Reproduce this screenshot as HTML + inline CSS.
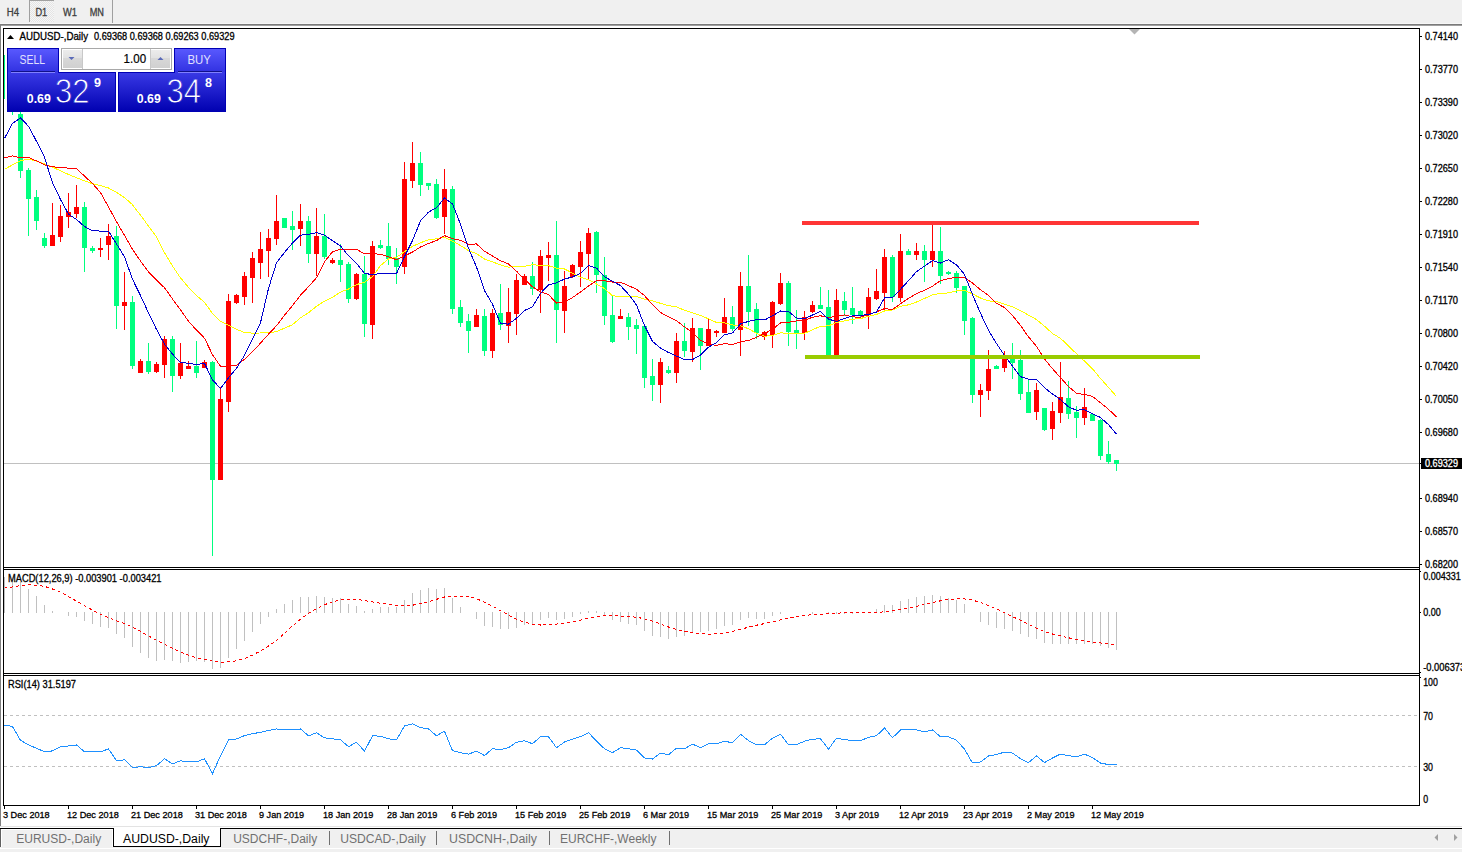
<!DOCTYPE html>
<html><head><meta charset="utf-8"><title>AUDUSD-,Daily</title>
<style>html,body{margin:0;padding:0;background:#fff;overflow:hidden;width:1462px;height:852px}svg{display:block}text{font-family:"Liberation Sans",sans-serif}</style>
</head><body>
<svg width="1462" height="852" viewBox="0 0 1462 852" font-family="Liberation Sans, sans-serif"><rect x="0" y="0" width="1462" height="852" fill="#ffffff"/>
<rect x="0" y="0" width="1462" height="23" fill="#f0f0f0"/>
<rect x="0" y="23" width="1462" height="1" fill="#f7f7f7"/>
<rect x="0" y="24" width="1462" height="1" fill="#7a7a7a"/>
<rect x="0" y="25" width="1462" height="1" fill="#a0a0a0"/>
<defs><pattern id="chk" width="2" height="2" patternUnits="userSpaceOnUse"><rect width="2" height="2" fill="#f6f6f6"/><rect width="1" height="1" fill="#e4e4e4"/><rect x="1" y="1" width="1" height="1" fill="#e4e4e4"/></pattern><linearGradient id="gtab" x1="0" y1="0" x2="0" y2="1"><stop offset="0" stop-color="#5a5aff"/><stop offset="1" stop-color="#3030e0"/></linearGradient><linearGradient id="gbox" x1="0" y1="0" x2="0" y2="1"><stop offset="0" stop-color="#3a3ae6"/><stop offset="1" stop-color="#0000b0"/></linearGradient><linearGradient id="gbtn" x1="0" y1="0" x2="0" y2="1"><stop offset="0" stop-color="#ececec"/><stop offset="0.45" stop-color="#e2e2e2"/><stop offset="0.45" stop-color="#d8d8d8"/><stop offset="1" stop-color="#d0d0d0"/></linearGradient><linearGradient id="gstr" gradientUnits="userSpaceOnUse" x1="0" y1="72" x2="0" y2="112"><stop offset="0" stop-color="#3a3ae6"/><stop offset="1" stop-color="#0000b0"/></linearGradient><clipPath id="main"><rect x="4" y="29" width="1415" height="538"/></clipPath><clipPath id="macd"><rect x="4" y="570" width="1415" height="103"/></clipPath><clipPath id="rsi"><rect x="4" y="676" width="1415" height="129"/></clipPath></defs>
<rect x="29" y="0" width="25" height="22" fill="url(#chk)"/>
<rect x="29" y="0" width="1" height="22" fill="#a0a0a0"/>
<rect x="29" y="0" width="25" height="1" fill="#a0a0a0"/>
<rect x="112" y="0" width="1" height="23" fill="#a0a0a0"/>
<text x="6.7" y="16" font-size="10" fill="#404040" textLength="12.3" lengthAdjust="spacingAndGlyphs" stroke="#404040" stroke-width="0.3">H4</text>
<text x="35.4" y="16" font-size="10" fill="#404040" textLength="11.8" lengthAdjust="spacingAndGlyphs" stroke="#404040" stroke-width="0.3">D1</text>
<text x="63" y="16" font-size="10" fill="#404040" textLength="14" lengthAdjust="spacingAndGlyphs" stroke="#404040" stroke-width="0.3">W1</text>
<text x="89.7" y="16" font-size="10" fill="#404040" textLength="14.3" lengthAdjust="spacingAndGlyphs" stroke="#404040" stroke-width="0.3">MN</text>
<rect x="0" y="24" width="1" height="803" fill="#808080"/>
<rect x="3" y="28" width="1417" height="1" fill="#000000"/>
<rect x="3" y="28" width="1" height="778" fill="#000000"/>
<rect x="1419" y="28" width="1" height="778" fill="#000000"/>
<rect x="3" y="805" width="1417" height="1" fill="#000000"/>
<rect x="3" y="567" width="1417" height="1" fill="#000000"/>
<rect x="3" y="569" width="1417" height="1" fill="#000000"/>
<rect x="3" y="673" width="1417" height="1" fill="#000000"/>
<rect x="3" y="675" width="1417" height="1" fill="#000000"/>
<g clip-path="url(#main)" shape-rendering="crispEdges">
<rect x="4" y="463" width="1415" height="1" fill="#c0c0c0"/>
<rect x="4" y="55" width="1" height="44" fill="#00ff7f"/>
<rect x="12" y="60" width="1" height="55" fill="#00ff7f"/>
<rect x="10" y="80" width="5" height="31" fill="#00ff7f"/>
<rect x="20" y="100" width="1" height="78" fill="#00ff7f"/>
<rect x="18" y="114" width="5" height="57" fill="#00ff7f"/>
<rect x="28" y="168" width="1" height="68" fill="#00ff7f"/>
<rect x="26" y="170" width="5" height="29" fill="#00ff7f"/>
<rect x="36" y="190" width="1" height="40" fill="#00ff7f"/>
<rect x="34" y="197" width="5" height="24" fill="#00ff7f"/>
<rect x="44" y="233" width="1" height="15" fill="#00ff7f"/>
<rect x="42" y="238" width="5" height="8" fill="#00ff7f"/>
<rect x="52" y="203" width="1" height="43" fill="#ff0000"/>
<rect x="50" y="235" width="5" height="11" fill="#ff0000"/>
<rect x="60" y="205" width="1" height="37" fill="#ff0000"/>
<rect x="58" y="216" width="5" height="21" fill="#ff0000"/>
<rect x="68" y="193" width="1" height="35" fill="#ff0000"/>
<rect x="66" y="212" width="5" height="5" fill="#ff0000"/>
<rect x="76" y="185" width="1" height="33" fill="#ff0000"/>
<rect x="74" y="207" width="5" height="7" fill="#ff0000"/>
<rect x="84" y="202" width="1" height="70" fill="#00ff7f"/>
<rect x="82" y="207" width="5" height="41" fill="#00ff7f"/>
<rect x="92" y="246" width="1" height="7" fill="#00ff7f"/>
<rect x="90" y="248" width="5" height="3" fill="#00ff7f"/>
<rect x="100" y="238" width="1" height="19" fill="#ff0000"/>
<rect x="98" y="248" width="5" height="2" fill="#ff0000"/>
<rect x="108" y="224" width="1" height="36" fill="#ff0000"/>
<rect x="106" y="236" width="5" height="9" fill="#ff0000"/>
<rect x="116" y="226" width="1" height="103" fill="#00ff7f"/>
<rect x="114" y="236" width="5" height="70" fill="#00ff7f"/>
<rect x="124" y="272" width="1" height="58" fill="#ff0000"/>
<rect x="122" y="302" width="5" height="4" fill="#ff0000"/>
<rect x="132" y="296" width="1" height="73" fill="#00ff7f"/>
<rect x="130" y="302" width="5" height="64" fill="#00ff7f"/>
<rect x="140" y="359" width="1" height="14" fill="#ff0000"/>
<rect x="138" y="361" width="5" height="12" fill="#ff0000"/>
<rect x="148" y="343" width="1" height="31" fill="#00ff7f"/>
<rect x="146" y="361" width="5" height="11" fill="#00ff7f"/>
<rect x="156" y="362" width="1" height="11" fill="#ff0000"/>
<rect x="154" y="364" width="5" height="8" fill="#ff0000"/>
<rect x="164" y="336" width="1" height="42" fill="#ff0000"/>
<rect x="162" y="339" width="5" height="26" fill="#ff0000"/>
<rect x="172" y="336" width="1" height="56" fill="#00ff7f"/>
<rect x="170" y="339" width="5" height="37" fill="#00ff7f"/>
<rect x="180" y="343" width="1" height="36" fill="#ff0000"/>
<rect x="178" y="363" width="5" height="13" fill="#ff0000"/>
<rect x="188" y="361" width="1" height="8" fill="#ff0000"/>
<rect x="186" y="366" width="5" height="3" fill="#ff0000"/>
<rect x="196" y="341" width="1" height="37" fill="#00ff7f"/>
<rect x="194" y="366" width="5" height="7" fill="#00ff7f"/>
<rect x="204" y="360" width="1" height="8" fill="#ff0000"/>
<rect x="202" y="362" width="5" height="6" fill="#ff0000"/>
<rect x="212" y="361" width="1" height="195" fill="#00ff7f"/>
<rect x="210" y="362" width="5" height="118" fill="#00ff7f"/>
<rect x="220" y="387" width="1" height="93" fill="#ff0000"/>
<rect x="218" y="399" width="5" height="81" fill="#ff0000"/>
<rect x="228" y="294" width="1" height="118" fill="#ff0000"/>
<rect x="226" y="301" width="5" height="101" fill="#ff0000"/>
<rect x="236" y="294" width="1" height="10" fill="#ff0000"/>
<rect x="234" y="295" width="5" height="8" fill="#ff0000"/>
<rect x="244" y="272" width="1" height="33" fill="#ff0000"/>
<rect x="242" y="276" width="5" height="21" fill="#ff0000"/>
<rect x="252" y="252" width="1" height="51" fill="#ff0000"/>
<rect x="250" y="258" width="5" height="20" fill="#ff0000"/>
<rect x="260" y="232" width="1" height="47" fill="#ff0000"/>
<rect x="258" y="249" width="5" height="14" fill="#ff0000"/>
<rect x="268" y="229" width="1" height="48" fill="#ff0000"/>
<rect x="266" y="238" width="5" height="13" fill="#ff0000"/>
<rect x="276" y="195" width="1" height="50" fill="#ff0000"/>
<rect x="274" y="221" width="5" height="18" fill="#ff0000"/>
<rect x="284" y="218" width="1" height="10" fill="#00ff7f"/>
<rect x="282" y="218" width="5" height="10" fill="#00ff7f"/>
<rect x="292" y="211" width="1" height="39" fill="#00ff7f"/>
<rect x="290" y="226" width="5" height="4" fill="#00ff7f"/>
<rect x="300" y="204" width="1" height="42" fill="#ff0000"/>
<rect x="298" y="221" width="5" height="8" fill="#ff0000"/>
<rect x="308" y="216" width="1" height="47" fill="#00ff7f"/>
<rect x="306" y="221" width="5" height="33" fill="#00ff7f"/>
<rect x="316" y="208" width="1" height="68" fill="#ff0000"/>
<rect x="314" y="236" width="5" height="18" fill="#ff0000"/>
<rect x="324" y="214" width="1" height="45" fill="#00ff7f"/>
<rect x="322" y="236" width="5" height="21" fill="#00ff7f"/>
<rect x="332" y="258" width="1" height="6" fill="#ff0000"/>
<rect x="330" y="260" width="5" height="3" fill="#ff0000"/>
<rect x="340" y="244" width="1" height="38" fill="#00ff7f"/>
<rect x="338" y="260" width="5" height="5" fill="#00ff7f"/>
<rect x="348" y="262" width="1" height="41" fill="#00ff7f"/>
<rect x="346" y="264" width="5" height="35" fill="#00ff7f"/>
<rect x="356" y="273" width="1" height="27" fill="#ff0000"/>
<rect x="354" y="274" width="5" height="25" fill="#ff0000"/>
<rect x="364" y="256" width="1" height="81" fill="#00ff7f"/>
<rect x="362" y="274" width="5" height="50" fill="#00ff7f"/>
<rect x="372" y="241" width="1" height="98" fill="#ff0000"/>
<rect x="370" y="246" width="5" height="79" fill="#ff0000"/>
<rect x="380" y="240" width="1" height="9" fill="#00ff7f"/>
<rect x="378" y="245" width="5" height="3" fill="#00ff7f"/>
<rect x="388" y="223" width="1" height="42" fill="#00ff7f"/>
<rect x="386" y="246" width="5" height="13" fill="#00ff7f"/>
<rect x="396" y="248" width="1" height="36" fill="#00ff7f"/>
<rect x="394" y="258" width="5" height="9" fill="#00ff7f"/>
<rect x="404" y="162" width="1" height="112" fill="#ff0000"/>
<rect x="402" y="179" width="5" height="88" fill="#ff0000"/>
<rect x="412" y="142" width="1" height="46" fill="#ff0000"/>
<rect x="410" y="163" width="5" height="18" fill="#ff0000"/>
<rect x="420" y="152" width="1" height="44" fill="#00ff7f"/>
<rect x="418" y="163" width="5" height="22" fill="#00ff7f"/>
<rect x="428" y="183" width="1" height="7" fill="#00ff7f"/>
<rect x="426" y="183" width="5" height="3" fill="#00ff7f"/>
<rect x="436" y="179" width="1" height="40" fill="#00ff7f"/>
<rect x="434" y="184" width="5" height="34" fill="#00ff7f"/>
<rect x="444" y="169" width="1" height="65" fill="#ff0000"/>
<rect x="442" y="189" width="5" height="28" fill="#ff0000"/>
<rect x="452" y="186" width="1" height="128" fill="#00ff7f"/>
<rect x="450" y="189" width="5" height="120" fill="#00ff7f"/>
<rect x="460" y="300" width="1" height="27" fill="#00ff7f"/>
<rect x="458" y="307" width="5" height="16" fill="#00ff7f"/>
<rect x="468" y="314" width="1" height="39" fill="#00ff7f"/>
<rect x="466" y="321" width="5" height="10" fill="#00ff7f"/>
<rect x="476" y="309" width="1" height="18" fill="#ff0000"/>
<rect x="474" y="315" width="5" height="12" fill="#ff0000"/>
<rect x="484" y="309" width="1" height="47" fill="#00ff7f"/>
<rect x="482" y="316" width="5" height="35" fill="#00ff7f"/>
<rect x="492" y="309" width="1" height="49" fill="#ff0000"/>
<rect x="490" y="313" width="5" height="38" fill="#ff0000"/>
<rect x="500" y="284" width="1" height="46" fill="#00ff7f"/>
<rect x="498" y="313" width="5" height="12" fill="#00ff7f"/>
<rect x="508" y="288" width="1" height="55" fill="#ff0000"/>
<rect x="506" y="312" width="5" height="14" fill="#ff0000"/>
<rect x="516" y="274" width="1" height="61" fill="#ff0000"/>
<rect x="514" y="280" width="5" height="34" fill="#ff0000"/>
<rect x="524" y="274" width="1" height="11" fill="#ff0000"/>
<rect x="522" y="276" width="5" height="9" fill="#ff0000"/>
<rect x="532" y="262" width="1" height="33" fill="#00ff7f"/>
<rect x="530" y="276" width="5" height="13" fill="#00ff7f"/>
<rect x="540" y="250" width="1" height="63" fill="#ff0000"/>
<rect x="538" y="256" width="5" height="34" fill="#ff0000"/>
<rect x="548" y="242" width="1" height="39" fill="#ff0000"/>
<rect x="546" y="255" width="5" height="3" fill="#ff0000"/>
<rect x="556" y="221" width="1" height="122" fill="#00ff7f"/>
<rect x="554" y="255" width="5" height="55" fill="#00ff7f"/>
<rect x="564" y="271" width="1" height="62" fill="#ff0000"/>
<rect x="562" y="286" width="5" height="25" fill="#ff0000"/>
<rect x="572" y="264" width="1" height="14" fill="#ff0000"/>
<rect x="570" y="265" width="5" height="12" fill="#ff0000"/>
<rect x="580" y="241" width="1" height="46" fill="#ff0000"/>
<rect x="578" y="252" width="5" height="15" fill="#ff0000"/>
<rect x="588" y="228" width="1" height="51" fill="#ff0000"/>
<rect x="586" y="233" width="5" height="21" fill="#ff0000"/>
<rect x="596" y="231" width="1" height="62" fill="#00ff7f"/>
<rect x="594" y="232" width="5" height="43" fill="#00ff7f"/>
<rect x="604" y="257" width="1" height="68" fill="#00ff7f"/>
<rect x="602" y="275" width="5" height="41" fill="#00ff7f"/>
<rect x="612" y="296" width="1" height="47" fill="#00ff7f"/>
<rect x="610" y="315" width="5" height="27" fill="#00ff7f"/>
<rect x="620" y="309" width="1" height="10" fill="#ff0000"/>
<rect x="618" y="316" width="5" height="3" fill="#ff0000"/>
<rect x="628" y="313" width="1" height="27" fill="#00ff7f"/>
<rect x="626" y="317" width="5" height="10" fill="#00ff7f"/>
<rect x="636" y="319" width="1" height="35" fill="#00ff7f"/>
<rect x="634" y="325" width="5" height="4" fill="#00ff7f"/>
<rect x="644" y="326" width="1" height="62" fill="#00ff7f"/>
<rect x="642" y="326" width="5" height="52" fill="#00ff7f"/>
<rect x="652" y="359" width="1" height="42" fill="#00ff7f"/>
<rect x="650" y="376" width="5" height="9" fill="#00ff7f"/>
<rect x="660" y="358" width="1" height="45" fill="#ff0000"/>
<rect x="658" y="362" width="5" height="23" fill="#ff0000"/>
<rect x="668" y="366" width="1" height="8" fill="#00ff7f"/>
<rect x="666" y="370" width="5" height="3" fill="#00ff7f"/>
<rect x="676" y="333" width="1" height="50" fill="#ff0000"/>
<rect x="674" y="341" width="5" height="32" fill="#ff0000"/>
<rect x="684" y="323" width="1" height="34" fill="#00ff7f"/>
<rect x="682" y="341" width="5" height="10" fill="#00ff7f"/>
<rect x="692" y="318" width="1" height="44" fill="#ff0000"/>
<rect x="690" y="328" width="5" height="24" fill="#ff0000"/>
<rect x="700" y="328" width="1" height="42" fill="#00ff7f"/>
<rect x="698" y="328" width="5" height="18" fill="#00ff7f"/>
<rect x="708" y="318" width="1" height="28" fill="#ff0000"/>
<rect x="706" y="329" width="5" height="17" fill="#ff0000"/>
<rect x="716" y="330" width="1" height="7" fill="#ff0000"/>
<rect x="714" y="331" width="5" height="2" fill="#ff0000"/>
<rect x="724" y="298" width="1" height="35" fill="#ff0000"/>
<rect x="722" y="317" width="5" height="16" fill="#ff0000"/>
<rect x="732" y="306" width="1" height="25" fill="#00ff7f"/>
<rect x="730" y="317" width="5" height="12" fill="#00ff7f"/>
<rect x="740" y="272" width="1" height="84" fill="#ff0000"/>
<rect x="738" y="286" width="5" height="44" fill="#ff0000"/>
<rect x="748" y="255" width="1" height="71" fill="#00ff7f"/>
<rect x="746" y="286" width="5" height="26" fill="#00ff7f"/>
<rect x="756" y="303" width="1" height="36" fill="#00ff7f"/>
<rect x="754" y="309" width="5" height="24" fill="#00ff7f"/>
<rect x="764" y="331" width="1" height="9" fill="#ff0000"/>
<rect x="762" y="332" width="5" height="5" fill="#ff0000"/>
<rect x="772" y="301" width="1" height="47" fill="#ff0000"/>
<rect x="770" y="302" width="5" height="33" fill="#ff0000"/>
<rect x="780" y="273" width="1" height="32" fill="#ff0000"/>
<rect x="778" y="283" width="5" height="21" fill="#ff0000"/>
<rect x="788" y="281" width="1" height="65" fill="#00ff7f"/>
<rect x="786" y="283" width="5" height="49" fill="#00ff7f"/>
<rect x="796" y="310" width="1" height="39" fill="#00ff7f"/>
<rect x="794" y="330" width="5" height="3" fill="#00ff7f"/>
<rect x="804" y="311" width="1" height="29" fill="#ff0000"/>
<rect x="802" y="317" width="5" height="16" fill="#ff0000"/>
<rect x="812" y="301" width="1" height="12" fill="#ff0000"/>
<rect x="810" y="305" width="5" height="7" fill="#ff0000"/>
<rect x="820" y="287" width="1" height="22" fill="#00ff7f"/>
<rect x="818" y="305" width="5" height="4" fill="#00ff7f"/>
<rect x="828" y="290" width="1" height="66" fill="#00ff7f"/>
<rect x="826" y="307" width="5" height="49" fill="#00ff7f"/>
<rect x="836" y="289" width="1" height="67" fill="#ff0000"/>
<rect x="834" y="300" width="5" height="55" fill="#ff0000"/>
<rect x="844" y="292" width="1" height="24" fill="#00ff7f"/>
<rect x="842" y="301" width="5" height="9" fill="#00ff7f"/>
<rect x="852" y="287" width="1" height="37" fill="#00ff7f"/>
<rect x="850" y="308" width="5" height="7" fill="#00ff7f"/>
<rect x="860" y="310" width="1" height="7" fill="#00ff7f"/>
<rect x="858" y="311" width="5" height="5" fill="#00ff7f"/>
<rect x="868" y="288" width="1" height="41" fill="#ff0000"/>
<rect x="866" y="297" width="5" height="18" fill="#ff0000"/>
<rect x="876" y="269" width="1" height="31" fill="#ff0000"/>
<rect x="874" y="291" width="5" height="8" fill="#ff0000"/>
<rect x="884" y="249" width="1" height="61" fill="#ff0000"/>
<rect x="882" y="257" width="5" height="36" fill="#ff0000"/>
<rect x="892" y="255" width="1" height="47" fill="#00ff7f"/>
<rect x="890" y="257" width="5" height="40" fill="#00ff7f"/>
<rect x="900" y="234" width="1" height="68" fill="#ff0000"/>
<rect x="898" y="251" width="5" height="47" fill="#ff0000"/>
<rect x="908" y="249" width="1" height="6" fill="#00ff7f"/>
<rect x="906" y="251" width="5" height="4" fill="#00ff7f"/>
<rect x="916" y="243" width="1" height="17" fill="#ff0000"/>
<rect x="914" y="251" width="5" height="4" fill="#ff0000"/>
<rect x="924" y="245" width="1" height="37" fill="#00ff7f"/>
<rect x="922" y="251" width="5" height="9" fill="#00ff7f"/>
<rect x="932" y="225" width="1" height="42" fill="#ff0000"/>
<rect x="930" y="251" width="5" height="9" fill="#ff0000"/>
<rect x="940" y="227" width="1" height="57" fill="#00ff7f"/>
<rect x="938" y="251" width="5" height="25" fill="#00ff7f"/>
<rect x="948" y="271" width="1" height="4" fill="#00ff7f"/>
<rect x="946" y="272" width="5" height="2" fill="#00ff7f"/>
<rect x="956" y="271" width="1" height="22" fill="#00ff7f"/>
<rect x="954" y="273" width="5" height="15" fill="#00ff7f"/>
<rect x="964" y="286" width="1" height="49" fill="#00ff7f"/>
<rect x="962" y="286" width="5" height="35" fill="#00ff7f"/>
<rect x="972" y="317" width="1" height="86" fill="#00ff7f"/>
<rect x="970" y="318" width="5" height="77" fill="#00ff7f"/>
<rect x="980" y="384" width="1" height="33" fill="#ff0000"/>
<rect x="978" y="390" width="5" height="5" fill="#ff0000"/>
<rect x="988" y="350" width="1" height="50" fill="#ff0000"/>
<rect x="986" y="369" width="5" height="22" fill="#ff0000"/>
<rect x="996" y="365" width="1" height="4" fill="#00ff7f"/>
<rect x="994" y="366" width="5" height="3" fill="#00ff7f"/>
<rect x="1004" y="351" width="1" height="21" fill="#ff0000"/>
<rect x="1002" y="358" width="5" height="10" fill="#ff0000"/>
<rect x="1012" y="343" width="1" height="36" fill="#00ff7f"/>
<rect x="1010" y="358" width="5" height="5" fill="#00ff7f"/>
<rect x="1020" y="350" width="1" height="50" fill="#00ff7f"/>
<rect x="1018" y="360" width="5" height="34" fill="#00ff7f"/>
<rect x="1028" y="379" width="1" height="34" fill="#00ff7f"/>
<rect x="1026" y="392" width="5" height="21" fill="#00ff7f"/>
<rect x="1036" y="383" width="1" height="37" fill="#ff0000"/>
<rect x="1034" y="390" width="5" height="22" fill="#ff0000"/>
<rect x="1044" y="408" width="1" height="23" fill="#00ff7f"/>
<rect x="1042" y="408" width="5" height="22" fill="#00ff7f"/>
<rect x="1052" y="402" width="1" height="38" fill="#ff0000"/>
<rect x="1050" y="411" width="5" height="18" fill="#ff0000"/>
<rect x="1060" y="362" width="1" height="61" fill="#ff0000"/>
<rect x="1058" y="397" width="5" height="16" fill="#ff0000"/>
<rect x="1068" y="381" width="1" height="38" fill="#00ff7f"/>
<rect x="1066" y="398" width="5" height="16" fill="#00ff7f"/>
<rect x="1076" y="406" width="1" height="32" fill="#00ff7f"/>
<rect x="1074" y="412" width="5" height="6" fill="#00ff7f"/>
<rect x="1084" y="388" width="1" height="37" fill="#ff0000"/>
<rect x="1082" y="407" width="5" height="11" fill="#ff0000"/>
<rect x="1092" y="414" width="1" height="7" fill="#00ff7f"/>
<rect x="1090" y="414" width="5" height="7" fill="#00ff7f"/>
<rect x="1100" y="419" width="1" height="41" fill="#00ff7f"/>
<rect x="1098" y="420" width="5" height="36" fill="#00ff7f"/>
<rect x="1108" y="441" width="1" height="23" fill="#00ff7f"/>
<rect x="1106" y="454" width="5" height="8" fill="#00ff7f"/>
<rect x="1116" y="460" width="1" height="11" fill="#00ff7f"/>
<rect x="1114" y="460" width="5" height="4" fill="#00ff7f"/>
</g>
<polyline clip-path="url(#main)" points="4.5,169.2 12.5,164.9 20.5,160.7 28.5,159.1 36.5,161.2 44.5,163.9 52.5,167.1 60.5,170.8 68.5,174.5 76.5,177.7 84.5,180.9 92.5,183.7 100.5,185.7 108.5,188.0 116.5,192.4 124.5,197.6 132.5,204.7 140.5,215.3 148.5,226.0 156.5,236.7 164.5,252.7 172.5,265.9 180.5,277.9 188.5,287.3 196.5,295.6 204.5,302.3 212.5,313.5 220.5,321.3 228.5,325.3 236.5,329.3 244.5,332.6 252.5,333.1 260.5,333.0 268.5,332.6 276.5,331.8 284.5,328.1 292.5,324.7 300.5,317.8 308.5,312.7 316.5,306.3 324.5,301.1 332.5,297.4 340.5,292.1 348.5,289.0 356.5,284.6 364.5,282.2 372.5,276.7 380.5,265.6 388.5,258.9 396.5,257.3 404.5,251.7 412.5,246.4 420.5,242.8 428.5,239.8 436.5,238.8 444.5,237.3 452.5,241.1 460.5,245.5 468.5,250.7 476.5,253.7 484.5,259.1 492.5,261.8 500.5,264.9 508.5,267.2 516.5,266.3 524.5,266.4 532.5,264.8 540.5,265.3 548.5,265.7 556.5,268.1 564.5,269.0 572.5,273.1 580.5,277.4 588.5,279.7 596.5,284.0 604.5,288.6 612.5,295.9 620.5,296.3 628.5,296.5 636.5,296.4 644.5,299.3 652.5,300.9 660.5,303.3 668.5,305.6 676.5,306.9 684.5,310.2 692.5,312.7 700.5,315.4 708.5,318.9 716.5,322.5 724.5,322.9 732.5,324.9 740.5,325.9 748.5,328.7 756.5,333.4 764.5,336.2 772.5,335.6 780.5,332.8 788.5,333.5 796.5,333.8 804.5,333.3 812.5,329.9 820.5,326.2 828.5,325.9 836.5,322.5 844.5,320.9 852.5,319.2 860.5,318.6 868.5,316.3 876.5,314.5 884.5,311.0 892.5,310.0 900.5,306.4 908.5,304.8 916.5,302.0 924.5,298.5 932.5,294.7 940.5,293.4 948.5,292.9 956.5,290.8 964.5,290.3 972.5,293.9 980.5,298.0 988.5,300.9 996.5,301.5 1004.5,304.2 1012.5,306.8 1020.5,310.6 1028.5,315.1 1036.5,319.6 1044.5,326.2 1052.5,333.5 1060.5,338.3 1068.5,346.0 1076.5,353.7 1084.5,361.1 1092.5,368.8 1100.5,378.5 1108.5,387.4 1116.5,396.4" fill="none" stroke="#ffff00" stroke-width="1" shape-rendering="crispEdges"/>
<polyline clip-path="url(#main)" points="4.5,158.0 12.5,155.9 20.5,158.0 28.5,157.5 36.5,160.9 44.5,164.9 52.5,166.7 60.5,167.7 68.5,168.1 76.5,168.7 84.5,176.0 92.5,183.5 100.5,192.5 108.5,207.0 116.5,221.7 124.5,235.4 132.5,249.4 140.5,261.0 148.5,271.8 156.5,280.2 164.5,287.7 172.5,299.0 180.5,309.8 188.5,321.2 196.5,330.1 204.5,338.2 212.5,354.7 220.5,366.3 228.5,366.0 236.5,365.5 244.5,359.2 252.5,351.8 260.5,343.1 268.5,334.2 276.5,325.7 284.5,315.2 292.5,305.6 300.5,295.2 308.5,286.7 316.5,277.7 324.5,261.7 332.5,251.8 340.5,249.2 348.5,249.4 356.5,249.2 364.5,253.9 372.5,253.7 380.5,254.3 388.5,256.9 396.5,259.7 404.5,256.1 412.5,252.0 420.5,247.0 428.5,243.4 436.5,240.6 444.5,235.6 452.5,238.7 460.5,240.4 468.5,244.4 476.5,243.9 484.5,251.3 492.5,256.0 500.5,260.7 508.5,264.0 516.5,271.2 524.5,279.3 532.5,286.8 540.5,291.9 548.5,294.6 556.5,303.2 564.5,301.6 572.5,297.6 580.5,292.0 588.5,286.1 596.5,280.7 604.5,280.8 612.5,282.1 620.5,282.3 628.5,285.6 636.5,289.3 644.5,295.6 652.5,304.8 660.5,312.4 668.5,316.9 676.5,320.8 684.5,326.9 692.5,332.3 700.5,340.3 708.5,344.2 716.5,345.4 724.5,343.7 732.5,344.5 740.5,341.7 748.5,340.5 756.5,337.3 764.5,333.6 772.5,329.3 780.5,322.9 788.5,322.2 796.5,320.9 804.5,320.1 812.5,317.3 820.5,315.8 828.5,317.5 836.5,316.3 844.5,314.9 852.5,316.9 860.5,317.2 868.5,314.7 876.5,311.8 884.5,308.6 892.5,309.5 900.5,303.8 908.5,298.3 916.5,293.6 924.5,290.3 932.5,286.2 940.5,280.5 948.5,278.6 956.5,277.1 964.5,277.5 972.5,283.1 980.5,289.8 988.5,295.3 996.5,303.2 1004.5,307.6 1012.5,315.5 1020.5,325.5 1028.5,336.9 1036.5,346.3 1044.5,359.0 1052.5,368.7 1060.5,377.6 1068.5,386.5 1076.5,393.4 1084.5,394.4 1092.5,396.5 1100.5,402.7 1108.5,409.3 1116.5,416.9" fill="none" stroke="#ff0000" stroke-width="1" shape-rendering="crispEdges"/>
<polyline clip-path="url(#main)" points="4.5,138.4 12.5,123.4 20.5,117.9 28.5,126.3 36.5,141.3 44.5,157.3 52.5,182.7 60.5,199.5 68.5,214.1 76.5,219.5 84.5,226.5 92.5,230.7 100.5,231.1 108.5,231.2 116.5,243.9 124.5,256.8 132.5,279.3 140.5,295.6 148.5,312.9 156.5,329.4 164.5,344.1 172.5,354.1 180.5,362.8 188.5,363.1 196.5,364.6 204.5,363.4 212.5,379.9 220.5,388.5 228.5,377.9 236.5,368.2 244.5,355.3 252.5,339.0 260.5,322.8 268.5,288.4 276.5,262.9 284.5,252.4 292.5,243.0 300.5,235.1 308.5,234.4 316.5,232.6 324.5,235.1 332.5,240.7 340.5,245.9 348.5,255.8 356.5,263.3 364.5,273.3 372.5,274.7 380.5,273.4 388.5,273.1 396.5,273.5 404.5,256.5 412.5,240.6 420.5,220.8 428.5,212.1 436.5,207.8 444.5,198.0 452.5,203.9 460.5,224.3 468.5,248.2 476.5,266.9 484.5,290.5 492.5,304.2 500.5,323.5 508.5,324.1 516.5,318.2 524.5,310.5 532.5,306.7 540.5,293.3 548.5,285.0 556.5,282.8 564.5,279.1 572.5,276.9 580.5,273.5 588.5,265.6 596.5,268.1 604.5,276.7 612.5,281.3 620.5,285.6 628.5,294.3 636.5,305.0 644.5,325.6 652.5,341.4 660.5,348.1 668.5,352.5 676.5,356.1 684.5,359.5 692.5,359.6 700.5,355.0 708.5,347.1 716.5,342.7 724.5,334.8 732.5,333.0 740.5,323.9 748.5,321.4 756.5,319.6 764.5,320.0 772.5,315.9 780.5,311.0 788.5,311.4 796.5,318.0 804.5,318.9 812.5,315.0 820.5,311.5 828.5,319.1 836.5,321.5 844.5,318.4 852.5,315.8 860.5,315.5 868.5,314.4 876.5,312.0 884.5,298.0 892.5,297.5 900.5,289.3 908.5,280.7 916.5,271.6 924.5,266.2 932.5,260.5 940.5,263.0 948.5,259.7 956.5,264.9 964.5,274.3 972.5,294.6 980.5,313.3 988.5,330.2 996.5,343.5 1004.5,355.5 1012.5,366.2 1020.5,376.7 1028.5,379.2 1036.5,379.2 1044.5,387.8 1052.5,394.0 1060.5,399.6 1068.5,406.9 1076.5,410.2 1084.5,409.6 1092.5,413.8 1100.5,417.5 1108.5,424.7 1116.5,434.1" fill="none" stroke="#0000cd" stroke-width="1" shape-rendering="crispEdges"/>
<rect x="802" y="221" width="397" height="4" fill="#ff3535"/>
<rect x="805" y="355" width="395" height="4" fill="#99cc00"/>
<polygon points="1129,29 1140,29 1134.5,34.5" fill="#b4b4b4"/>
<polygon points="7,39 14,39 10.5,35" fill="#000"/>
<text x="19.5" y="40" font-size="10.3" fill="#000" textLength="68.5" lengthAdjust="spacingAndGlyphs" stroke="#000" stroke-width="0.3">AUDUSD-,Daily</text>
<text x="94" y="40" font-size="10" fill="#000" textLength="140.5" lengthAdjust="spacingAndGlyphs" stroke="#000" stroke-width="0.3">0.69368 0.69368 0.69263 0.69329</text>
<rect x="7" y="48" width="52" height="25" fill="url(#gtab)"/>
<rect x="7" y="72" width="109" height="40" fill="url(#gbox)"/>
<rect x="174" y="48" width="52" height="25" fill="url(#gtab)"/>
<rect x="118" y="72" width="108" height="40" fill="url(#gbox)"/>
<path d="M7.5,111.5 V48.5 H58.5 V72.5 H115.5 V111.5 Z" fill="none" stroke="#0000b4" stroke-width="1" shape-rendering="crispEdges"/>
<path d="M118.5,111.5 V72.5 H174.5 V48.5 H225.5 V111.5 Z" fill="none" stroke="#0000b4" stroke-width="1" shape-rendering="crispEdges"/>
<rect x="11" y="71" width="44" height="1" fill="#10108a"/>
<rect x="11" y="72" width="44" height="1" fill="#8080ff"/>
<rect x="178" y="71" width="44" height="1" fill="#10108a"/>
<rect x="178" y="72" width="44" height="1" fill="#8080ff"/>
<text x="19.5" y="64" font-size="12" fill="#e0e0ff" textLength="25.5" lengthAdjust="spacingAndGlyphs">SELL</text>
<text x="187.5" y="64" font-size="12" fill="#e0e0ff" textLength="23.5" lengthAdjust="spacingAndGlyphs">BUY</text>
<rect x="61" y="48" width="111" height="22" fill="#a8a8a8"/>
<rect x="62" y="49" width="109" height="20" fill="#ffffff"/>
<rect x="63" y="50" width="19" height="18" fill="url(#gbtn)"/>
<rect x="82" y="49" width="1" height="20" fill="#c8c8c8"/>
<rect x="151" y="50" width="19" height="18" fill="url(#gbtn)"/>
<rect x="150" y="49" width="1" height="20" fill="#c8c8c8"/>
<polygon points="68.5,57 74.5,57 71.5,60" fill="#5a6ab8"/>
<polygon points="157.5,60 163.5,60 160.5,57" fill="#5a6ab8"/>
<text x="123.6" y="63" font-size="12" fill="#000" textLength="22.5" lengthAdjust="spacingAndGlyphs" stroke="#000" stroke-width="0.2">1.00</text>
<text x="26.8" y="103" font-size="12.5" fill="#fff" textLength="24" lengthAdjust="spacingAndGlyphs" font-weight="bold">0.69</text>
<text x="55" y="103" font-size="34.5" fill="#fff" textLength="34.5" lengthAdjust="spacingAndGlyphs" stroke="url(#gstr)" stroke-width="0.9">32</text>
<text x="94" y="86.5" font-size="12" fill="#fff" textLength="7" lengthAdjust="spacingAndGlyphs" font-weight="bold">9</text>
<text x="136.8" y="103" font-size="12.5" fill="#fff" textLength="24" lengthAdjust="spacingAndGlyphs" font-weight="bold">0.69</text>
<text x="166.5" y="103" font-size="34.5" fill="#fff" textLength="34.5" lengthAdjust="spacingAndGlyphs" stroke="url(#gstr)" stroke-width="0.9">34</text>
<text x="205" y="86.5" font-size="12" fill="#fff" textLength="7" lengthAdjust="spacingAndGlyphs" font-weight="bold">8</text>
<rect x="1420" y="36" width="2" height="1" fill="#000000"/>
<text x="1425" y="40" font-size="10" fill="#000" textLength="33" lengthAdjust="spacingAndGlyphs" stroke="#000" stroke-width="0.3">0.74140</text>
<rect x="1420" y="69" width="2" height="1" fill="#000000"/>
<text x="1425" y="73" font-size="10" fill="#000" textLength="33" lengthAdjust="spacingAndGlyphs" stroke="#000" stroke-width="0.3">0.73770</text>
<rect x="1420" y="102" width="2" height="1" fill="#000000"/>
<text x="1425" y="106" font-size="10" fill="#000" textLength="33" lengthAdjust="spacingAndGlyphs" stroke="#000" stroke-width="0.3">0.73390</text>
<rect x="1420" y="135" width="2" height="1" fill="#000000"/>
<text x="1425" y="139" font-size="10" fill="#000" textLength="33" lengthAdjust="spacingAndGlyphs" stroke="#000" stroke-width="0.3">0.73020</text>
<rect x="1420" y="168" width="2" height="1" fill="#000000"/>
<text x="1425" y="172" font-size="10" fill="#000" textLength="33" lengthAdjust="spacingAndGlyphs" stroke="#000" stroke-width="0.3">0.72650</text>
<rect x="1420" y="201" width="2" height="1" fill="#000000"/>
<text x="1425" y="205" font-size="10" fill="#000" textLength="33" lengthAdjust="spacingAndGlyphs" stroke="#000" stroke-width="0.3">0.72280</text>
<rect x="1420" y="234" width="2" height="1" fill="#000000"/>
<text x="1425" y="238" font-size="10" fill="#000" textLength="33" lengthAdjust="spacingAndGlyphs" stroke="#000" stroke-width="0.3">0.71910</text>
<rect x="1420" y="267" width="2" height="1" fill="#000000"/>
<text x="1425" y="271" font-size="10" fill="#000" textLength="33" lengthAdjust="spacingAndGlyphs" stroke="#000" stroke-width="0.3">0.71540</text>
<rect x="1420" y="300" width="2" height="1" fill="#000000"/>
<text x="1425" y="304" font-size="10" fill="#000" textLength="33" lengthAdjust="spacingAndGlyphs" stroke="#000" stroke-width="0.3">0.71170</text>
<rect x="1420" y="333" width="2" height="1" fill="#000000"/>
<text x="1425" y="337" font-size="10" fill="#000" textLength="33" lengthAdjust="spacingAndGlyphs" stroke="#000" stroke-width="0.3">0.70800</text>
<rect x="1420" y="366" width="2" height="1" fill="#000000"/>
<text x="1425" y="370" font-size="10" fill="#000" textLength="33" lengthAdjust="spacingAndGlyphs" stroke="#000" stroke-width="0.3">0.70420</text>
<rect x="1420" y="399" width="2" height="1" fill="#000000"/>
<text x="1425" y="403" font-size="10" fill="#000" textLength="33" lengthAdjust="spacingAndGlyphs" stroke="#000" stroke-width="0.3">0.70050</text>
<rect x="1420" y="432" width="2" height="1" fill="#000000"/>
<text x="1425" y="436" font-size="10" fill="#000" textLength="33" lengthAdjust="spacingAndGlyphs" stroke="#000" stroke-width="0.3">0.69680</text>
<rect x="1420" y="498" width="2" height="1" fill="#000000"/>
<text x="1425" y="502" font-size="10" fill="#000" textLength="33" lengthAdjust="spacingAndGlyphs" stroke="#000" stroke-width="0.3">0.68940</text>
<rect x="1420" y="531" width="2" height="1" fill="#000000"/>
<text x="1425" y="535" font-size="10" fill="#000" textLength="33" lengthAdjust="spacingAndGlyphs" stroke="#000" stroke-width="0.3">0.68570</text>
<rect x="1420" y="564" width="2" height="1" fill="#000000"/>
<text x="1425" y="568" font-size="10" fill="#000" textLength="33" lengthAdjust="spacingAndGlyphs" stroke="#000" stroke-width="0.3">0.68200</text>
<rect x="1421" y="458" width="41" height="11" fill="#000"/>
<rect x="1420" y="463" width="2" height="1" fill="#000000"/>
<text x="1425" y="467" font-size="10" fill="#fff" textLength="33" lengthAdjust="spacingAndGlyphs" stroke="#fff" stroke-width="0.3">0.69329</text>
<g clip-path="url(#macd)" shape-rendering="crispEdges">
<rect x="4" y="577" width="1" height="36" fill="#c0c0c0"/>
<rect x="12" y="580" width="1" height="33" fill="#c0c0c0"/>
<rect x="20" y="582" width="1" height="31" fill="#c0c0c0"/>
<rect x="28" y="589" width="1" height="24" fill="#c0c0c0"/>
<rect x="36" y="596" width="1" height="17" fill="#c0c0c0"/>
<rect x="44" y="605" width="1" height="8" fill="#c0c0c0"/>
<rect x="52" y="611" width="1" height="2" fill="#c0c0c0"/>
<rect x="68" y="612" width="1" height="4" fill="#c0c0c0"/>
<rect x="76" y="612" width="1" height="5" fill="#c0c0c0"/>
<rect x="84" y="612" width="1" height="9" fill="#c0c0c0"/>
<rect x="92" y="612" width="1" height="12" fill="#c0c0c0"/>
<rect x="100" y="612" width="1" height="15" fill="#c0c0c0"/>
<rect x="108" y="612" width="1" height="16" fill="#c0c0c0"/>
<rect x="116" y="612" width="1" height="22" fill="#c0c0c0"/>
<rect x="124" y="612" width="1" height="26" fill="#c0c0c0"/>
<rect x="132" y="612" width="1" height="35" fill="#c0c0c0"/>
<rect x="140" y="612" width="1" height="41" fill="#c0c0c0"/>
<rect x="148" y="612" width="1" height="46" fill="#c0c0c0"/>
<rect x="156" y="612" width="1" height="49" fill="#c0c0c0"/>
<rect x="164" y="612" width="1" height="48" fill="#c0c0c0"/>
<rect x="172" y="612" width="1" height="49" fill="#c0c0c0"/>
<rect x="180" y="612" width="1" height="51" fill="#c0c0c0"/>
<rect x="188" y="612" width="1" height="50" fill="#c0c0c0"/>
<rect x="196" y="612" width="1" height="49" fill="#c0c0c0"/>
<rect x="204" y="612" width="1" height="50" fill="#c0c0c0"/>
<rect x="212" y="612" width="1" height="57" fill="#c0c0c0"/>
<rect x="220" y="612" width="1" height="56" fill="#c0c0c0"/>
<rect x="228" y="612" width="1" height="46" fill="#c0c0c0"/>
<rect x="236" y="612" width="1" height="37" fill="#c0c0c0"/>
<rect x="244" y="612" width="1" height="29" fill="#c0c0c0"/>
<rect x="252" y="612" width="1" height="20" fill="#c0c0c0"/>
<rect x="260" y="612" width="1" height="12" fill="#c0c0c0"/>
<rect x="268" y="612" width="1" height="5" fill="#c0c0c0"/>
<rect x="276" y="609" width="1" height="4" fill="#c0c0c0"/>
<rect x="284" y="604" width="1" height="9" fill="#c0c0c0"/>
<rect x="292" y="600" width="1" height="13" fill="#c0c0c0"/>
<rect x="300" y="597" width="1" height="16" fill="#c0c0c0"/>
<rect x="308" y="597" width="1" height="16" fill="#c0c0c0"/>
<rect x="316" y="596" width="1" height="17" fill="#c0c0c0"/>
<rect x="324" y="597" width="1" height="16" fill="#c0c0c0"/>
<rect x="332" y="598" width="1" height="15" fill="#c0c0c0"/>
<rect x="340" y="598" width="1" height="15" fill="#c0c0c0"/>
<rect x="348" y="604" width="1" height="9" fill="#c0c0c0"/>
<rect x="356" y="606" width="1" height="7" fill="#c0c0c0"/>
<rect x="364" y="611" width="1" height="2" fill="#c0c0c0"/>
<rect x="372" y="609" width="1" height="4" fill="#c0c0c0"/>
<rect x="380" y="607" width="1" height="6" fill="#c0c0c0"/>
<rect x="388" y="607" width="1" height="6" fill="#c0c0c0"/>
<rect x="396" y="607" width="1" height="6" fill="#c0c0c0"/>
<rect x="404" y="600" width="1" height="13" fill="#c0c0c0"/>
<rect x="412" y="593" width="1" height="20" fill="#c0c0c0"/>
<rect x="420" y="590" width="1" height="23" fill="#c0c0c0"/>
<rect x="428" y="588" width="1" height="25" fill="#c0c0c0"/>
<rect x="436" y="589" width="1" height="24" fill="#c0c0c0"/>
<rect x="444" y="588" width="1" height="25" fill="#c0c0c0"/>
<rect x="452" y="598" width="1" height="15" fill="#c0c0c0"/>
<rect x="460" y="607" width="1" height="6" fill="#c0c0c0"/>
<rect x="476" y="612" width="1" height="7" fill="#c0c0c0"/>
<rect x="484" y="612" width="1" height="14" fill="#c0c0c0"/>
<rect x="492" y="612" width="1" height="15" fill="#c0c0c0"/>
<rect x="500" y="612" width="1" height="17" fill="#c0c0c0"/>
<rect x="508" y="612" width="1" height="17" fill="#c0c0c0"/>
<rect x="516" y="612" width="1" height="16" fill="#c0c0c0"/>
<rect x="524" y="612" width="1" height="13" fill="#c0c0c0"/>
<rect x="532" y="612" width="1" height="12" fill="#c0c0c0"/>
<rect x="540" y="612" width="1" height="8" fill="#c0c0c0"/>
<rect x="548" y="612" width="1" height="6" fill="#c0c0c0"/>
<rect x="556" y="612" width="1" height="8" fill="#c0c0c0"/>
<rect x="564" y="612" width="1" height="7" fill="#c0c0c0"/>
<rect x="572" y="612" width="1" height="5" fill="#c0c0c0"/>
<rect x="580" y="612" width="1" height="2" fill="#c0c0c0"/>
<rect x="588" y="611" width="1" height="2" fill="#c0c0c0"/>
<rect x="596" y="611" width="1" height="2" fill="#c0c0c0"/>
<rect x="604" y="612" width="1" height="3" fill="#c0c0c0"/>
<rect x="612" y="612" width="1" height="8" fill="#c0c0c0"/>
<rect x="620" y="612" width="1" height="10" fill="#c0c0c0"/>
<rect x="628" y="612" width="1" height="12" fill="#c0c0c0"/>
<rect x="636" y="612" width="1" height="13" fill="#c0c0c0"/>
<rect x="644" y="612" width="1" height="19" fill="#c0c0c0"/>
<rect x="652" y="612" width="1" height="24" fill="#c0c0c0"/>
<rect x="660" y="612" width="1" height="25" fill="#c0c0c0"/>
<rect x="668" y="612" width="1" height="27" fill="#c0c0c0"/>
<rect x="676" y="612" width="1" height="25" fill="#c0c0c0"/>
<rect x="684" y="612" width="1" height="24" fill="#c0c0c0"/>
<rect x="692" y="612" width="1" height="21" fill="#c0c0c0"/>
<rect x="700" y="612" width="1" height="20" fill="#c0c0c0"/>
<rect x="708" y="612" width="1" height="19" fill="#c0c0c0"/>
<rect x="716" y="612" width="1" height="17" fill="#c0c0c0"/>
<rect x="724" y="612" width="1" height="14" fill="#c0c0c0"/>
<rect x="732" y="612" width="1" height="13" fill="#c0c0c0"/>
<rect x="740" y="612" width="1" height="8" fill="#c0c0c0"/>
<rect x="748" y="612" width="1" height="6" fill="#c0c0c0"/>
<rect x="756" y="612" width="1" height="7" fill="#c0c0c0"/>
<rect x="764" y="612" width="1" height="7" fill="#c0c0c0"/>
<rect x="772" y="612" width="1" height="4" fill="#c0c0c0"/>
<rect x="780" y="612" width="1" height="2" fill="#c0c0c0"/>
<rect x="812" y="612" width="1" height="2" fill="#c0c0c0"/>
<rect x="828" y="612" width="1" height="2" fill="#c0c0c0"/>
<rect x="836" y="612" width="1" height="2" fill="#c0c0c0"/>
<rect x="844" y="612" width="1" height="2" fill="#c0c0c0"/>
<rect x="852" y="612" width="1" height="2" fill="#c0c0c0"/>
<rect x="876" y="609" width="1" height="4" fill="#c0c0c0"/>
<rect x="884" y="605" width="1" height="8" fill="#c0c0c0"/>
<rect x="892" y="605" width="1" height="8" fill="#c0c0c0"/>
<rect x="900" y="601" width="1" height="12" fill="#c0c0c0"/>
<rect x="908" y="599" width="1" height="14" fill="#c0c0c0"/>
<rect x="916" y="597" width="1" height="16" fill="#c0c0c0"/>
<rect x="924" y="596" width="1" height="17" fill="#c0c0c0"/>
<rect x="932" y="595" width="1" height="18" fill="#c0c0c0"/>
<rect x="940" y="596" width="1" height="17" fill="#c0c0c0"/>
<rect x="948" y="598" width="1" height="15" fill="#c0c0c0"/>
<rect x="956" y="600" width="1" height="13" fill="#c0c0c0"/>
<rect x="964" y="604" width="1" height="9" fill="#c0c0c0"/>
<rect x="980" y="612" width="1" height="10" fill="#c0c0c0"/>
<rect x="988" y="612" width="1" height="13" fill="#c0c0c0"/>
<rect x="996" y="612" width="1" height="16" fill="#c0c0c0"/>
<rect x="1004" y="612" width="1" height="17" fill="#c0c0c0"/>
<rect x="1012" y="612" width="1" height="19" fill="#c0c0c0"/>
<rect x="1020" y="612" width="1" height="22" fill="#c0c0c0"/>
<rect x="1028" y="612" width="1" height="25" fill="#c0c0c0"/>
<rect x="1036" y="612" width="1" height="27" fill="#c0c0c0"/>
<rect x="1044" y="612" width="1" height="31" fill="#c0c0c0"/>
<rect x="1052" y="612" width="1" height="32" fill="#c0c0c0"/>
<rect x="1060" y="612" width="1" height="32" fill="#c0c0c0"/>
<rect x="1068" y="612" width="1" height="32" fill="#c0c0c0"/>
<rect x="1076" y="612" width="1" height="32" fill="#c0c0c0"/>
<rect x="1084" y="612" width="1" height="32" fill="#c0c0c0"/>
<rect x="1092" y="612" width="1" height="32" fill="#c0c0c0"/>
<rect x="1100" y="612" width="1" height="34" fill="#c0c0c0"/>
<rect x="1108" y="612" width="1" height="36" fill="#c0c0c0"/>
<rect x="1116" y="612" width="1" height="38" fill="#c0c0c0"/>
</g>
<polyline clip-path="url(#macd)" points="4.5,588.1 12.5,587.0 20.5,585.6 28.5,584.8 36.5,585.3 44.5,586.3 52.5,589.0 60.5,592.1 68.5,596.8 76.5,601.1 84.5,605.6 92.5,610.1 100.5,614.2 108.5,617.6 116.5,620.7 124.5,623.5 132.5,627.3 140.5,631.4 148.5,635.9 156.5,640.3 164.5,644.3 172.5,648.2 180.5,652.0 188.5,655.1 196.5,657.7 204.5,659.4 212.5,661.2 220.5,662.3 228.5,661.9 236.5,660.8 244.5,658.5 252.5,655.1 260.5,651.0 268.5,646.0 276.5,640.3 284.5,633.3 292.5,625.9 300.5,619.2 308.5,613.5 316.5,608.6 324.5,604.7 332.5,601.9 340.5,599.9 348.5,599.3 356.5,599.4 364.5,600.6 372.5,602.0 380.5,603.2 388.5,604.4 396.5,605.5 404.5,605.7 412.5,605.2 420.5,603.7 428.5,601.7 436.5,599.3 444.5,597.0 452.5,596.0 460.5,596.0 468.5,596.6 476.5,598.6 484.5,602.2 492.5,606.2 500.5,610.7 508.5,615.1 516.5,619.4 524.5,622.3 532.5,624.1 540.5,625.0 548.5,624.8 556.5,624.1 564.5,623.2 572.5,621.8 580.5,620.1 588.5,618.3 596.5,616.8 604.5,615.7 612.5,615.6 620.5,616.1 628.5,616.5 636.5,617.2 644.5,618.8 652.5,621.2 660.5,624.0 668.5,627.0 676.5,629.5 684.5,631.4 692.5,632.6 700.5,633.6 708.5,634.1 716.5,633.9 724.5,632.9 732.5,631.5 740.5,629.4 748.5,627.2 756.5,625.2 764.5,623.6 772.5,621.8 780.5,619.9 788.5,618.2 796.5,616.7 804.5,615.4 812.5,614.7 820.5,614.2 828.5,613.7 836.5,613.1 844.5,612.9 852.5,612.9 860.5,612.9 868.5,612.9 876.5,612.6 884.5,611.7 892.5,611.0 900.5,609.6 908.5,608.1 916.5,606.3 924.5,604.5 932.5,602.6 940.5,600.8 948.5,599.5 956.5,599.0 964.5,598.9 972.5,600.1 980.5,602.5 988.5,605.6 996.5,609.0 1004.5,612.8 1012.5,616.5 1020.5,620.4 1028.5,624.4 1036.5,628.2 1044.5,631.6 1052.5,634.0 1060.5,636.0 1068.5,637.8 1076.5,639.4 1084.5,640.9 1092.5,642.0 1100.5,643.0 1108.5,643.9 1116.5,644.6" fill="none" stroke="#ff0000" stroke-width="1" stroke-dasharray="3,3" shape-rendering="crispEdges"/>
<text x="8" y="582" font-size="10" fill="#000" textLength="153.5" lengthAdjust="spacingAndGlyphs" stroke="#000" stroke-width="0.3">MACD(12,26,9) -0.003901 -0.003421</text>
<rect x="1420" y="571" width="1" height="1" fill="#000000"/>
<text x="1423.2" y="580" font-size="10" fill="#000" textLength="37.6" lengthAdjust="spacingAndGlyphs" stroke="#000" stroke-width="0.3">0.004331</text>
<rect x="1420" y="612" width="1" height="1" fill="#000000"/>
<text x="1423.2" y="616" font-size="10" fill="#000" textLength="17.5" lengthAdjust="spacingAndGlyphs" stroke="#000" stroke-width="0.3">0.00</text>
<rect x="1420" y="672" width="1" height="1" fill="#000000"/>
<text x="1423.2" y="671" font-size="10" fill="#000" textLength="42" lengthAdjust="spacingAndGlyphs" stroke="#000" stroke-width="0.3">-0.006373</text>
<g clip-path="url(#rsi)" shape-rendering="crispEdges">
<line x1="4" y1="715.5" x2="1419" y2="715.5" stroke="#c0c0c0" stroke-width="1" stroke-dasharray="3,3"/>
<line x1="4" y1="766.5" x2="1419" y2="766.5" stroke="#c0c0c0" stroke-width="1" stroke-dasharray="3,3"/>
</g>
<polyline clip-path="url(#rsi)" points="4.5,725.1 12.5,726.5 20.5,740.3 28.5,744.9 36.5,748.3 44.5,751.8 52.5,750.9 60.5,746.9 68.5,745.9 76.5,744.9 84.5,751.8 92.5,751.8 100.5,751.8 108.5,748.9 116.5,760.8 124.5,759.8 132.5,767.7 140.5,766.7 148.5,767.7 156.5,765.7 164.5,758.8 172.5,763.8 180.5,760.8 188.5,761.8 196.5,761.8 204.5,758.8 212.5,773.7 220.5,755.8 228.5,739.9 236.5,739.0 244.5,735.6 252.5,733.6 260.5,732.4 268.5,730.4 276.5,729.0 284.5,729.9 292.5,729.9 300.5,728.9 308.5,735.8 316.5,732.8 324.5,737.8 332.5,738.8 340.5,739.8 348.5,746.7 356.5,742.2 364.5,751.1 372.5,735.8 380.5,736.2 388.5,738.8 396.5,739.8 404.5,725.9 412.5,723.9 420.5,727.7 428.5,728.9 436.5,735.8 444.5,731.2 452.5,750.7 460.5,752.7 468.5,754.1 476.5,751.1 484.5,755.6 492.5,748.7 500.5,749.7 508.5,747.7 516.5,742.2 524.5,740.8 532.5,743.7 540.5,736.8 548.5,736.8 556.5,747.7 564.5,742.0 572.5,739.2 580.5,736.6 588.5,732.6 596.5,741.2 604.5,748.7 612.5,752.7 620.5,747.7 628.5,748.7 636.5,750.1 644.5,758.0 652.5,759.0 660.5,753.1 668.5,754.7 676.5,748.1 684.5,748.7 692.5,744.1 700.5,747.7 708.5,743.7 716.5,743.7 724.5,741.2 732.5,742.8 740.5,734.2 748.5,740.6 756.5,744.7 764.5,744.7 772.5,738.2 780.5,734.2 788.5,744.7 796.5,744.7 804.5,741.2 812.5,739.2 820.5,738.8 828.5,749.1 836.5,738.2 844.5,739.5 852.5,740.8 860.5,740.8 868.5,737.2 876.5,735.8 884.5,727.9 892.5,737.8 900.5,729.9 908.5,729.9 916.5,729.9 924.5,731.8 932.5,729.9 940.5,736.8 948.5,736.8 956.5,740.2 964.5,749.1 972.5,763.0 980.5,762.0 988.5,756.0 996.5,754.5 1004.5,752.1 1012.5,753.1 1020.5,758.6 1028.5,762.6 1036.5,756.0 1044.5,762.6 1052.5,758.0 1060.5,754.1 1068.5,755.6 1076.5,757.0 1084.5,754.1 1092.5,757.6 1100.5,763.0 1108.5,764.6 1116.5,765.0" fill="none" stroke="#1e90ff" stroke-width="1" shape-rendering="crispEdges"/>
<text x="8" y="688" font-size="10" fill="#000" textLength="68" lengthAdjust="spacingAndGlyphs" stroke="#000" stroke-width="0.3">RSI(14) 31.5197</text>
<rect x="1420" y="677" width="1" height="1" fill="#000000"/>
<text x="1423.2" y="686" font-size="10" fill="#000" textLength="14.7" lengthAdjust="spacingAndGlyphs" stroke="#000" stroke-width="0.3">100</text>
<text x="1423.2" y="720" font-size="10" fill="#000" textLength="9.8" lengthAdjust="spacingAndGlyphs" stroke="#000" stroke-width="0.3">70</text>
<text x="1423.2" y="771" font-size="10" fill="#000" textLength="9.8" lengthAdjust="spacingAndGlyphs" stroke="#000" stroke-width="0.3">30</text>
<text x="1423.2" y="803" font-size="10" fill="#000" textLength="4.9" lengthAdjust="spacingAndGlyphs" stroke="#000" stroke-width="0.3">0</text>
<rect x="4" y="806" width="1" height="3" fill="#000000"/>
<text x="3" y="818" font-size="9.7" fill="#000" textLength="46.7" lengthAdjust="spacingAndGlyphs" stroke="#000" stroke-width="0.3">3 Dec 2018</text>
<rect x="68" y="806" width="1" height="3" fill="#000000"/>
<text x="67" y="818" font-size="9.7" fill="#000" textLength="51.8" lengthAdjust="spacingAndGlyphs" stroke="#000" stroke-width="0.3">12 Dec 2018</text>
<rect x="132" y="806" width="1" height="3" fill="#000000"/>
<text x="131" y="818" font-size="9.7" fill="#000" textLength="51.8" lengthAdjust="spacingAndGlyphs" stroke="#000" stroke-width="0.3">21 Dec 2018</text>
<rect x="196" y="806" width="1" height="3" fill="#000000"/>
<text x="195" y="818" font-size="9.7" fill="#000" textLength="51.8" lengthAdjust="spacingAndGlyphs" stroke="#000" stroke-width="0.3">31 Dec 2018</text>
<rect x="260" y="806" width="1" height="3" fill="#000000"/>
<text x="259" y="818" font-size="9.7" fill="#000" textLength="45.2" lengthAdjust="spacingAndGlyphs" stroke="#000" stroke-width="0.3">9 Jan 2019</text>
<rect x="324" y="806" width="1" height="3" fill="#000000"/>
<text x="323" y="818" font-size="9.7" fill="#000" textLength="50.3" lengthAdjust="spacingAndGlyphs" stroke="#000" stroke-width="0.3">18 Jan 2019</text>
<rect x="388" y="806" width="1" height="3" fill="#000000"/>
<text x="387" y="818" font-size="9.7" fill="#000" textLength="50.3" lengthAdjust="spacingAndGlyphs" stroke="#000" stroke-width="0.3">28 Jan 2019</text>
<rect x="452" y="806" width="1" height="3" fill="#000000"/>
<text x="451" y="818" font-size="9.7" fill="#000" textLength="46.2" lengthAdjust="spacingAndGlyphs" stroke="#000" stroke-width="0.3">6 Feb 2019</text>
<rect x="516" y="806" width="1" height="3" fill="#000000"/>
<text x="515" y="818" font-size="9.7" fill="#000" textLength="51.3" lengthAdjust="spacingAndGlyphs" stroke="#000" stroke-width="0.3">15 Feb 2019</text>
<rect x="580" y="806" width="1" height="3" fill="#000000"/>
<text x="579" y="818" font-size="9.7" fill="#000" textLength="51.3" lengthAdjust="spacingAndGlyphs" stroke="#000" stroke-width="0.3">25 Feb 2019</text>
<rect x="644" y="806" width="1" height="3" fill="#000000"/>
<text x="643" y="818" font-size="9.7" fill="#000" textLength="46.2" lengthAdjust="spacingAndGlyphs" stroke="#000" stroke-width="0.3">6 Mar 2019</text>
<rect x="708" y="806" width="1" height="3" fill="#000000"/>
<text x="707" y="818" font-size="9.7" fill="#000" textLength="51.3" lengthAdjust="spacingAndGlyphs" stroke="#000" stroke-width="0.3">15 Mar 2019</text>
<rect x="772" y="806" width="1" height="3" fill="#000000"/>
<text x="771" y="818" font-size="9.7" fill="#000" textLength="51.3" lengthAdjust="spacingAndGlyphs" stroke="#000" stroke-width="0.3">25 Mar 2019</text>
<rect x="836" y="806" width="1" height="3" fill="#000000"/>
<text x="835" y="818" font-size="9.7" fill="#000" textLength="44.2" lengthAdjust="spacingAndGlyphs" stroke="#000" stroke-width="0.3">3 Apr 2019</text>
<rect x="900" y="806" width="1" height="3" fill="#000000"/>
<text x="899" y="818" font-size="9.7" fill="#000" textLength="49.2" lengthAdjust="spacingAndGlyphs" stroke="#000" stroke-width="0.3">12 Apr 2019</text>
<rect x="964" y="806" width="1" height="3" fill="#000000"/>
<text x="963" y="818" font-size="9.7" fill="#000" textLength="49.2" lengthAdjust="spacingAndGlyphs" stroke="#000" stroke-width="0.3">23 Apr 2019</text>
<rect x="1028" y="806" width="1" height="3" fill="#000000"/>
<text x="1027" y="818" font-size="9.7" fill="#000" textLength="47.7" lengthAdjust="spacingAndGlyphs" stroke="#000" stroke-width="0.3">2 May 2019</text>
<rect x="1092" y="806" width="1" height="3" fill="#000000"/>
<text x="1091" y="818" font-size="9.7" fill="#000" textLength="52.8" lengthAdjust="spacingAndGlyphs" stroke="#000" stroke-width="0.3">12 May 2019</text>
<rect x="0" y="826" width="1462" height="1" fill="#e3e3e3"/>
<rect x="0" y="828" width="1462" height="1" fill="#000000"/>
<rect x="0" y="829" width="1462" height="19" fill="#f0f0f0"/>
<rect x="0" y="848" width="1462" height="1" fill="#ffffff"/>
<rect x="0" y="849" width="1462" height="3" fill="#f0f0f0"/>
<rect x="113" y="828" width="108" height="19" fill="#ffffff"/>
<rect x="113" y="828" width="1" height="19" fill="#000000"/>
<rect x="220" y="828" width="1" height="19" fill="#000000"/>
<rect x="113" y="846" width="108" height="1" fill="#000000"/>
<rect x="1" y="829" width="112" height="1" fill="#ffffff"/>
<rect x="112" y="829" width="1" height="18" fill="#ffffff"/>
<rect x="0" y="829" width="1" height="18" fill="#606060"/>
<rect x="1" y="830" width="1" height="17" fill="#ffffff"/>
<rect x="329" y="831" width="1" height="14" fill="#707070"/>
<rect x="436" y="831" width="1" height="14" fill="#707070"/>
<rect x="549" y="831" width="1" height="14" fill="#707070"/>
<rect x="669" y="831" width="1" height="14" fill="#707070"/>
<text x="16.2" y="843" font-size="12.5" fill="#707070" textLength="85" lengthAdjust="spacingAndGlyphs">EURUSD-,Daily</text>
<text x="123" y="843" font-size="12.5" fill="#000" textLength="86.5" lengthAdjust="spacingAndGlyphs">AUDUSD-,Daily</text>
<text x="233.2" y="843" font-size="12.5" fill="#707070" textLength="84" lengthAdjust="spacingAndGlyphs">USDCHF-,Daily</text>
<text x="340.2" y="843" font-size="12.5" fill="#707070" textLength="85.5" lengthAdjust="spacingAndGlyphs">USDCAD-,Daily</text>
<text x="449" y="843" font-size="12.5" fill="#707070" textLength="88" lengthAdjust="spacingAndGlyphs">USDCNH-,Daily</text>
<text x="560" y="843" font-size="12.5" fill="#707070" textLength="96.5" lengthAdjust="spacingAndGlyphs">EURCHF-,Weekly</text>
<polygon points="1438,834 1438,841 1434.5,837.5" fill="#a0a0a0"/>
<polygon points="1454,834 1454,841 1457.5,837.5" fill="#a0a0a0"/></svg>
</body></html>
